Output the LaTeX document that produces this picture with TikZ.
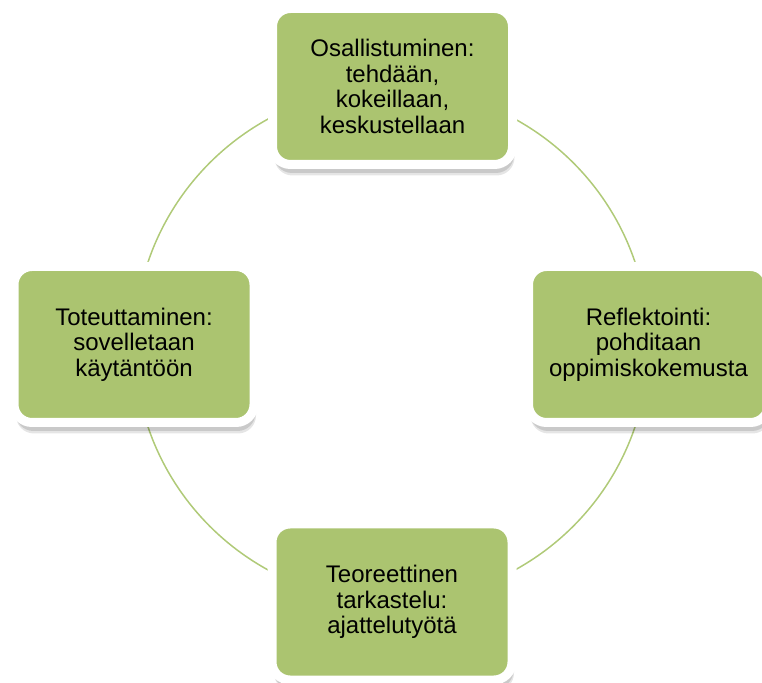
\documentclass[tikz,border=0pt]{standalone}
\usepackage{fontspec}
\setmainfont{Liberation Sans}
\usetikzlibrary{shadows}
\definecolor{boxgreen}{RGB}{171,196,112}
\definecolor{ringgreen}{RGB}{176,202,120}
\tikzset{
  stage/.style={draw=white, line width=9pt, fill=boxgreen, rounded corners=18pt,
    minimum width=240pt, minimum height=156pt, inner sep=0pt, align=center,
    text=black, font=\fontsize{24}{25.5}\selectfont,
    drop shadow={shadow xshift=2pt, shadow yshift=-11pt, opacity=0.10, fill=black},
    drop shadow={shadow xshift=1.5pt, shadow yshift=-8.5pt, opacity=0.12, fill=black}},
  ring/.style={draw=ringgreen, line width=1.5pt}
}
\begin{document}
\begin{tikzpicture}[x=1pt,y=1pt]
\useasboundingbox (0,0) rectangle (762,682);
\coordinate (c) at (391.5,337.5);
\draw[ring] (c) circle[radius=257];
\node[stage] (top) at (392.5,595.5) {Osallistuminen:\\tehdään,\\kokeillaan,\\keskustellaan};
\node[stage] (right) at (648.5,337.5) {Reflektointi:\\pohditaan\\oppimiskokemusta};
\node[stage] (bottom) at (392,80) {Teoreettinen\\tarkastelu:\\ajattelutyötä};
\node[stage] (left) at (134,337.5) {Toteuttaminen:\\sovelletaan\\käytäntöön};
\end{tikzpicture}
\end{document}
